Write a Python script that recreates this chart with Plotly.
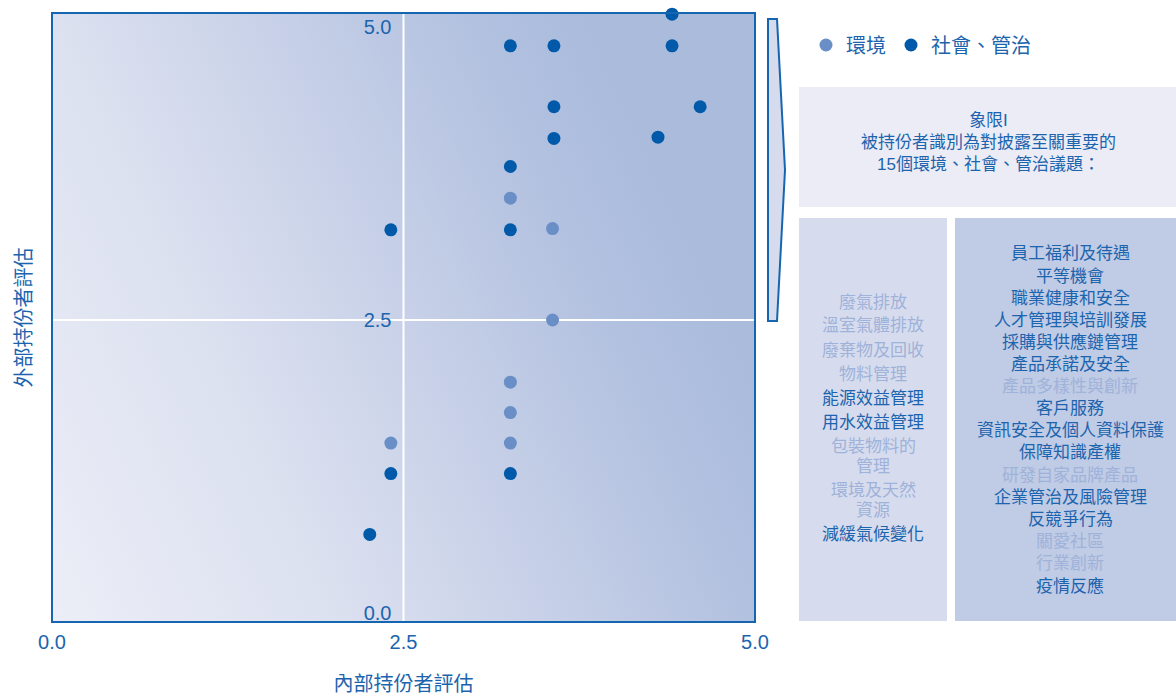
import base64
import plotly.graph_objects as go

# ---------------- data ----------------
env_x = [3.26, 3.56, 3.56, 3.26, 3.26, 3.26, 2.41]
env_y = [3.54, 3.28, 2.50, 1.97, 1.71, 1.45, 1.45]

soc_x = [4.41, 3.26, 3.57, 4.41, 3.57, 4.61, 3.57, 4.31, 3.26, 2.41, 3.26, 3.26, 2.41, 2.26]
soc_y = [5.11, 4.84, 4.84, 4.84, 4.32, 4.32, 4.05, 4.06, 3.81, 3.27, 3.27, 1.19, 1.19, 0.67]

series_names = ["環境", "社會、管治"]
axis_ticks = [0.0, 2.5, 5.0]
tick_text = ["0.0", "2.5", "5.0"]
x_title = "內部持份者評估"
y_title = "外部持份者評估"

panel_title = ["象限I", "被持份者識別為對披露至關重要的", "15個環境、社會、管治議題："]

env_topics = ["廢氣排放", "溫室氣體排放", "廢棄物及回收", "物料管理", "能源效益管理",
              "用水效益管理", "包裝物料的|管理", "環境及天然|資源", "減緩氣候變化"]
env_material = [False, False, False, False, True, True, False, False, True]

soc_topics = ["員工福利及待遇", "平等機會", "職業健康和安全", "人才管理與培訓發展",
              "採購與供應鏈管理", "產品承諾及安全", "產品多樣性與創新", "客戶服務",
              "資訊安全及個人資料保護", "保障知識產權", "研發自家品牌產品",
              "企業管治及風險管理", "反競爭行為", "關愛社區", "行業創新", "疫情反應"]
soc_material = [True, True, True, True, True, True, False, True, True, True, False,
                True, True, False, False, True]

# ---------------- style ----------------
W, H = 1176, 695
L, R, T, B = 52, 755, 13, 622
FONT = "Liberation Sans, Noto Sans CJK TC, sans-serif"
BLUE = "#1c64ad"
BORDER = "#1565b0"
DARK_PT = "#005aa9"
LIGHT_PT = "#6a8fc6"
FADED = "#9fb2d9"
Y_RANGE = [-0.077, 5.12]


def px(x):
    return (x - L) / (R - L)


def py(y):
    return (B - y) / (B - T)


svg = (
    '<svg xmlns="http://www.w3.org/2000/svg" width="703" height="609" '
    'viewBox="0 0 703 609" preserveAspectRatio="none">'
    '<defs><linearGradient id="g" x1="0" y1="1" x2="1" y2="0.6">'
    '<stop offset="0" stop-color="#eceef7"/>'
    '<stop offset="0.35" stop-color="#dce1f0"/>'
    '<stop offset="0.6" stop-color="#c8d1e8"/>'
    '<stop offset="0.86" stop-color="#b2c1e0"/>'
    '<stop offset="1" stop-color="#aabbdc"/>'
    '</linearGradient></defs>'
    '<rect width="703" height="609" fill="url(#g)"/></svg>'
)
bg_src = "data:image/svg+xml;base64," + base64.b64encode(svg.encode()).decode()

fig = go.Figure()
fig.add_trace(go.Scatter(x=env_x, y=env_y, mode="markers", name=series_names[0], yaxis="y2",
                         marker=dict(size=13, color=LIGHT_PT), cliponaxis=False,
                         hoverinfo="x+y"))
fig.add_trace(go.Scatter(x=soc_x, y=soc_y, mode="markers", name=series_names[1],
                         marker=dict(size=13, color=DARK_PT), cliponaxis=False,
                         hoverinfo="x+y"))

shapes = [
    dict(type="line", xref="x", yref="paper", x0=2.5, x1=2.5, y0=0, y1=1,
         line=dict(color="white", width=2), layer="below"),
    dict(type="line", xref="paper", yref="y", x0=0, x1=1, y0=2.5, y1=2.5,
         line=dict(color="white", width=2), layer="below"),
    dict(type="rect", xref="paper", yref="paper", x0=0, x1=1, y0=0, y1=1,
         line=dict(color=BORDER, width=2), fillcolor="rgba(0,0,0,0)", layer="above"),
    # panels
    dict(type="rect", xref="paper", yref="paper", x0=px(799), x1=px(1176), y0=py(207), y1=py(87),
         line=dict(width=0), fillcolor="#ebecf6", layer="above"),
    dict(type="rect", xref="paper", yref="paper", x0=px(799), x1=px(947), y0=py(621), y1=py(218),
         line=dict(width=0), fillcolor="#d6dcee", layer="above"),
    dict(type="rect", xref="paper", yref="paper", x0=px(955), x1=px(1176), y0=py(621), y1=py(218),
         line=dict(width=0), fillcolor="#c0cbe5", layer="above"),
]
arrow = [(768, 19), (777, 19), (785, 170), (777, 321), (768, 321)]
path = "M " + " L ".join(f"{px(a):.5f},{py(b):.5f}" for a, b in arrow) + " Z"
shapes.append(dict(type="path", xref="paper", yref="paper", path=path,
                   line=dict(color=BORDER, width=2), fillcolor="#d6dcee", layer="above"))

annotations = [
    dict(xref="paper", yref="paper", x=px(988), y=py(143), text="<br>".join(panel_title),
         showarrow=False, xanchor="center", yanchor="middle",
         font=dict(family=FONT, size=17, color=BLUE)),
]

yy = 302
for topic, mat in zip(env_topics, env_material):
    parts = topic.split("|")
    for i, part in enumerate(parts):
        annotations.append(dict(xref="paper", yref="paper", x=px(873), y=py(yy), text=part,
                                showarrow=False, xanchor="center", yanchor="middle",
                                font=dict(family=FONT, size=17, color=BLUE if mat else FADED)))
        yy += 20 if i < len(parts) - 1 else 24

for i, (topic, mat) in enumerate(zip(soc_topics, soc_material)):
    annotations.append(dict(xref="paper", yref="paper", x=px(1070), y=py(254 + 22.1 * i), text=topic,
                            showarrow=False, xanchor="center", yanchor="middle",
                            font=dict(family=FONT, size=17, color=BLUE if mat else FADED)))

fig.update_layout(
    width=W, height=H,
    margin=dict(l=L, r=W - R, t=T, b=H - B, pad=0, autoexpand=False),
    paper_bgcolor="white",
    plot_bgcolor="rgba(0,0,0,0)",
    font=dict(family=FONT, color=BLUE),
    images=[dict(source=bg_src, xref="paper", yref="paper", x=0, y=1, sizex=1, sizey=1,
                 xanchor="left", yanchor="top", sizing="stretch", layer="below")],
    xaxis=dict(range=[0, 5], tickvals=axis_ticks, ticktext=tick_text, showgrid=False,
               zeroline=False, showline=False, ticks="", ticklabelstandoff=6, automargin=False,
               tickfont=dict(size=20, color=BLUE),
               title=dict(text=x_title, font=dict(size=20, color=BLUE), standoff=24)),
    yaxis=dict(range=Y_RANGE, showticklabels=False, showgrid=False, zeroline=False,
               showline=False, ticks="", automargin=False,
               title=dict(text=y_title, font=dict(size=20, color=BLUE), standoff=14)),
    yaxis2=dict(range=Y_RANGE, overlaying="y", anchor="free", position=0.5, side="left",
                tickvals=axis_ticks, ticktext=tick_text, showgrid=False, zeroline=False,
                showline=False, ticks="", ticklabelstandoff=12, automargin=False,
                tickfont=dict(size=20, color=BLUE)),
    legend=dict(orientation="h", x=px(806), y=py(45), xanchor="left", yanchor="middle",
                font=dict(family=FONT, size=20, color=BLUE), bgcolor="rgba(0,0,0,0)",
                itemwidth=30, tracegroupgap=0),
    shapes=shapes,
    annotations=annotations,
    hovermode="closest",
)

fig.write_html("out.html")
